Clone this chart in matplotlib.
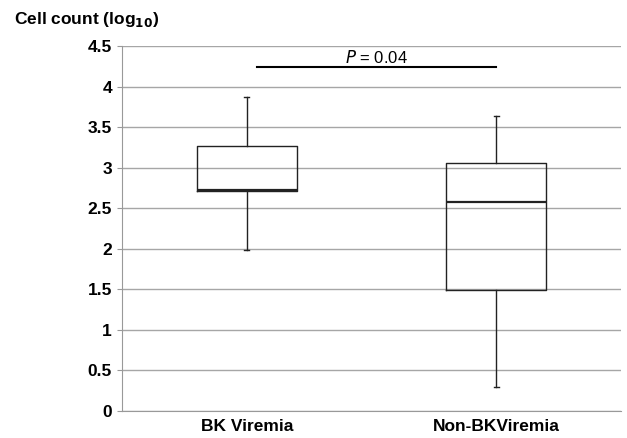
import matplotlib
matplotlib.use("Agg")
import matplotlib.pyplot as plt

plt.rcParams["font.family"] = ["Liberation Sans", "DejaVu Sans"]

# Box plot summary (log10 cell count)
groups = ["BK Viremia", "Non-BKViremia"]
whisker_low = [1.99, 0.30]
q1 = [2.71, 1.49]
median = [2.73, 2.58]
q3 = [3.27, 3.06]
whisker_high = [3.87, 3.64]
p_text = "0.04"
p_height = 4.24

stats = []
for i in range(len(groups)):
    stats.append({
        "label": groups[i],
        "whislo": whisker_low[i],
        "q1": q1[i],
        "med": median[i],
        "q3": q3[i],
        "whishi": whisker_high[i],
        "fliers": [],
    })

fig = plt.figure(figsize=(6.27, 4.38), dpi=100)
ax = fig.add_axes([0.1946, 0.0616, 0.7954, 0.8334])

ax.set_axisbelow(True)
ax.yaxis.grid(True, color="#a6a6a6", linewidth=1.0)

ax.bxp(stats, positions=[1, 2], widths=0.4, showfliers=False,
       boxprops=dict(color="#222222", linewidth=1.0),
       whiskerprops=dict(color="#222222", linewidth=1.0),
       capprops=dict(color="#222222", linewidth=1.0),
       medianprops=dict(color="#222222", linewidth=1.6),
       capwidths=0.02)

ax.set_xlim(0.5, 2.5)
ax.set_ylim(0, 4.5)
ax.set_yticks([0, 0.5, 1, 1.5, 2, 2.5, 3, 3.5, 4, 4.5])
ax.set_yticklabels(["0", "0.5", "1", "1.5", "2", "2.5", "3", "3.5", "4", "4.5"])
ax.set_xticks([1, 2])
ax.set_xticklabels(groups)

for lab in ax.get_yticklabels():
    lab.set_fontweight("bold")
    lab.set_fontsize(12.5)
for lab in ax.get_xticklabels():
    lab.set_fontweight("bold")
    lab.set_fontsize(12.5)

ax.tick_params(axis="y", length=3.6, color="#999999", pad=3.6)
ax.tick_params(axis="x", length=0, pad=6)

for side in ["top", "right"]:
    ax.spines[side].set_visible(False)
ax.spines["left"].set_color("#999999")
ax.spines["bottom"].set_color("#999999")

# significance bar
ax.plot([1.04, 2.0], [p_height, p_height], color="black", linewidth=1.5)
ax.text(1.52, p_height + 0.015, "$\\it{P}$ = " + p_text, ha="center", va="bottom", fontsize=12)

fig.text(0.022, 0.955, "Cell count (log$_{\\mathbf{10}}$)", fontsize=12.5,
         fontweight="bold", ha="left", va="center")

fig.savefig("out.png", dpi=100)
